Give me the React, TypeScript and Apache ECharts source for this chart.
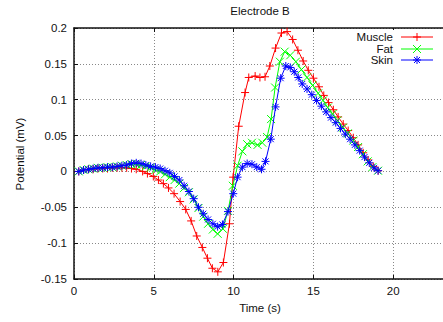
import React, { useEffect, useRef } from "react";
import * as echarts from "echarts";

const title = "Electrode B";
const xName = "Time (s)";
const yName = "Potential (mV)";
const seriesNames = ["Muscle", "Fat", "Skin"];
const seriesColors = ["#ff0000", "#00ff00", "#0000ff"];

const muscleT = [0.3, 0.6, 0.9, 1.2, 1.5, 1.8, 2.1, 2.4, 2.7, 3.0, 3.3, 3.6, 3.9, 4.3, 4.6, 4.97, 5.29, 5.6, 5.92, 6.27, 6.65, 7.0, 7.34, 7.69, 8.04, 8.36, 8.67, 9.01, 9.36, 9.74, 9.97, 10.32, 10.72, 10.95, 11.35, 11.65, 11.97, 12.27, 12.63, 13.0, 13.35, 13.7, 14.03, 14.36, 14.68, 15.0, 15.35, 15.65, 15.95, 16.25, 16.55, 16.87, 17.18, 17.5, 17.8, 18.12, 18.43, 18.75, 19.06];
const muscleV = [0.0, 0.002, 0.003, 0.003, 0.004, 0.004, 0.004, 0.005, 0.005, 0.005, 0.005, 0.004, 0.003, 0.0, -0.003, -0.007, -0.012, -0.017, -0.023, -0.031, -0.042, -0.053, -0.069, -0.09, -0.106, -0.121, -0.135, -0.14, -0.127, -0.073, -0.008, 0.063, 0.11, 0.131, 0.133, 0.131, 0.132, 0.147, 0.172, 0.193, 0.195, 0.184, 0.169, 0.154, 0.141, 0.13, 0.118, 0.106, 0.096, 0.086, 0.076, 0.066, 0.057, 0.047, 0.037, 0.026, 0.016, 0.007, 0.001];

const fatT = [0.3, 0.6, 0.9, 1.2, 1.5, 1.8, 2.1, 2.4, 2.7, 3.0, 3.3, 3.6, 3.9, 4.2, 4.5, 4.8, 5.1, 5.4, 5.7, 6.0, 6.3, 6.6, 6.9, 7.2, 7.5, 7.8, 8.1, 8.4, 8.7, 9.0, 9.33, 9.65, 9.95, 10.25, 10.55, 10.85, 11.15, 11.5, 11.8, 12.1, 12.35, 12.6, 12.9, 13.2, 13.55, 13.9, 14.25, 14.6, 14.95, 15.3, 15.6, 15.9, 16.2, 16.5, 16.85, 17.15, 17.5, 17.8, 18.1, 18.4, 18.7, 19.05];
const fatV = [0.0, 0.002, 0.003, 0.004, 0.005, 0.005, 0.006, 0.006, 0.007, 0.008, 0.009, 0.01, 0.01, 0.009, 0.007, 0.005, 0.002, 0.0, -0.004, -0.008, -0.012, -0.017, -0.023, -0.029, -0.039, -0.051, -0.063, -0.073, -0.081, -0.087, -0.08, -0.055, -0.02, 0.008, 0.028, 0.038, 0.04, 0.037, 0.04, 0.048, 0.073, 0.117, 0.153, 0.167, 0.162, 0.153, 0.142, 0.131, 0.12, 0.109, 0.099, 0.089, 0.08, 0.071, 0.061, 0.053, 0.043, 0.034, 0.024, 0.014, 0.006, 0.001];

const skinT = [0.3, 0.6, 0.9, 1.2, 1.5, 1.8, 2.1, 2.4, 2.7, 3.0, 3.3, 3.6, 3.9, 4.2, 4.5, 4.8, 5.1, 5.4, 5.7, 6.0, 6.3, 6.6, 6.9, 7.2, 7.5, 7.8, 8.1, 8.4, 8.7, 9.0, 9.3, 9.65, 9.98, 10.25, 10.55, 10.85, 11.15, 11.45, 11.75, 12.0, 12.33, 12.63, 12.95, 13.27, 13.55, 13.8, 14.05, 14.3, 14.6, 14.9, 15.2, 15.5, 15.8, 16.1, 16.4, 16.7, 17.0, 17.3, 17.6, 17.9, 18.2, 18.5, 18.8, 19.05];
const skinV = [0.0, 0.002, 0.003, 0.004, 0.005, 0.005, 0.006, 0.006, 0.007, 0.008, 0.009, 0.011, 0.012, 0.011, 0.009, 0.007, 0.006, 0.004, 0.001, -0.002, -0.007, -0.012, -0.02, -0.028, -0.038, -0.05, -0.059, -0.067, -0.073, -0.077, -0.074, -0.056, -0.031, -0.008, 0.006, 0.011, 0.01, 0.006, 0.003, 0.014, 0.045, 0.09, 0.13, 0.147, 0.145, 0.139, 0.131, 0.122, 0.115, 0.107, 0.099, 0.091, 0.083, 0.075, 0.068, 0.06, 0.052, 0.045, 0.037, 0.029, 0.02, 0.012, 0.005, 0.001];

const xTicks = { min: 0, max: 25, interval: 5 };
const yTicks = { min: -0.15, max: 0.2, interval: 0.05 };

const PLUS = "path://M0 4L8 4M4 0L4 8";
const CROSS = "path://M0 0L8 8M8 0L0 8";
const STAR = "path://M0 4L8 4M4 0L4 8M1 1L7 7M7 1L1 7";
const symbols = [PLUS, CROSS, STAR];

const FONT = "Liberation Sans, Arial, Helvetica, sans-serif";

export default function App() {
  const ref = useRef<HTMLDivElement>(null);
  useEffect(() => {
    if (!ref.current) return;
    const chart = echarts.init(ref.current, null, { renderer: "svg" });
    const datasets = [
      muscleT.map((t, i) => [t, muscleV[i]]),
      fatT.map((t, i) => [t, fatV[i]]),
      skinT.map((t, i) => [t, skinV[i]]),
    ];
    const series = datasets.map((d, k) => ({
      name: seriesNames[k],
      type: "line",
      data: d,
      symbol: symbols[k],
      symbolSize: 8,
      showAllSymbol: true,
      lineStyle: { color: seriesColors[k], width: 1 },
      itemStyle: { color: seriesColors[k], borderColor: seriesColors[k], borderWidth: 1 },
      z: 3 + k,
    }));

    const legendX = 393;
    const lineX1 = 401;
    const lineX2 = 433;
    const mx = 417;
    const rows = [37, 49, 60];
    const legendEls: any[] = [
      { type: "rect", shape: { x: 352, y: 30, width: 89, height: 38 }, style: { fill: "#fff" }, z: 50 },
    ];
    rows.forEach((y, k) => {
      legendEls.push({
        type: "text", x: legendX, y, z: 51,
        style: { text: seriesNames[k], textAlign: "right", textVerticalAlign: "middle", fontSize: 11.5, fontFamily: FONT, fill: "#111" },
      });
      legendEls.push({ type: "line", z: 51, shape: { x1: lineX1, y1: y, x2: lineX2, y2: y }, style: { stroke: seriesColors[k], lineWidth: 1 } });
      const s = 4;
      const segs: number[][] = [];
      if (k === 0 || k === 2) { segs.push([mx - s, y, mx + s, y]); segs.push([mx, y - s, mx, y + s]); }
      if (k === 1) { segs.push([mx - s, y - s, mx + s, y + s]); segs.push([mx + s, y - s, mx - s, y + s]); }
      if (k === 2) { segs.push([mx - 3, y - 3, mx + 3, y + 3]); segs.push([mx + 3, y - 3, mx - 3, y + 3]); }
      segs.forEach((g) => legendEls.push({ type: "line", z: 51, shape: { x1: g[0], y1: g[1], x2: g[2], y2: g[3] }, style: { stroke: seriesColors[k], lineWidth: 1 } }));
    });

    chart.setOption({
      animation: false,
      backgroundColor: "#fff",
      textStyle: { fontFamily: FONT },
      grid: { left: 74, top: 28, width: 399, height: 251, containLabel: false, outerBoundsMode: "none" },
      xAxis: [
        {
          type: "value", ...xTicks, position: "bottom",
          axisLine: { show: true, onZero: false, lineStyle: { color: "#111", width: 1.5 } },
          axisTick: { show: true, inside: true, length: 4, lineStyle: { color: "#111" } },
          axisLabel: { show: true, showMaxLabel: false, margin: 6, fontSize: 11.5, color: "#111", fontFamily: FONT },
          splitLine: { show: true, lineStyle: { color: "#888", type: [1, 2], width: 1 } },
        },
        {
          type: "value", ...xTicks, position: "top",
          axisLine: { show: true, onZero: false, lineStyle: { color: "#111", width: 1.5 } },
          axisTick: { show: true, inside: true, length: 4, lineStyle: { color: "#111" } },
          axisLabel: { show: false },
          splitLine: { show: false },
        },
      ],
      yAxis: {
        type: "value", ...yTicks,
        axisLine: { show: true, onZero: false, lineStyle: { color: "#111", width: 1.5 } },
        axisTick: { show: true, inside: true, length: 4, lineStyle: { color: "#111" } },
        axisLabel: { show: true, margin: 7, fontSize: 11.5, color: "#111", fontFamily: FONT },
        splitLine: { show: true, lineStyle: { color: "#888", type: [1, 2], width: 1 } },
      },
      series,
      graphic: [
        { type: "text", x: 260, y: 11, style: { text: title, textAlign: "center", textVerticalAlign: "middle", fontSize: 11.5, fontFamily: FONT, fill: "#111" } },
        { type: "text", x: 260, y: 308, style: { text: xName, textAlign: "center", textVerticalAlign: "middle", fontSize: 11.5, fontFamily: FONT, fill: "#111" } },
        { type: "text", x: 20, y: 154, rotation: Math.PI / 2, style: { text: yName, textAlign: "center", textVerticalAlign: "middle", fontSize: 11.5, fontFamily: FONT, fill: "#111" } },
        ...legendEls,
      ],
    });
    return () => chart.dispose();
  }, []);
  return <div ref={ref} style={{ width: 443, height: 322, position: "absolute", left: 0, top: 0 }} />;
}
